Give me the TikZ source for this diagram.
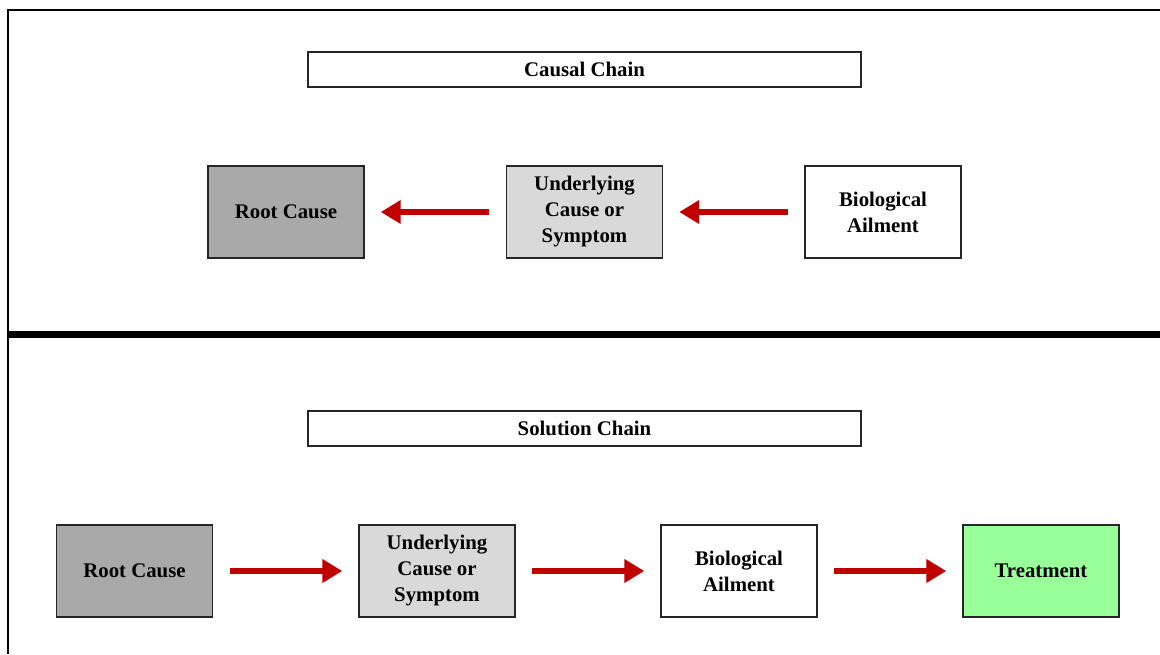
\documentclass[tikz,border=0pt]{standalone}
\usepackage{fontspec}
\setmainfont{Liberation Serif}
\usetikzlibrary{arrows.meta}
\definecolor{rootgray}{HTML}{A9A9A9}
\definecolor{midgray}{HTML}{D9D9D9}
\definecolor{treatgreen}{HTML}{99FF99}
\definecolor{arrowred}{HTML}{C00000}
\begin{document}
\begin{tikzpicture}[
            x=0.75pt, y=-0.75pt,
            box/.style={draw=black!85, line width=1.1pt, minimum width=117pt, minimum height=69pt,
                inner sep=0pt, align=center, font=\bfseries\fontsize{15.6}{19.5}\selectfont},
            title/.style={box, minimum width=414.75pt, minimum height=26.25pt},
            flow/.style={arrowred, line width=4.5pt, shorten <=12.5pt, shorten >=12pt,
                -{Triangle[length=15pt,width=17pt]}}
        ]
            \useasboundingbox (0,0) rectangle (1160,654);
            % frame and divider
            \draw[line width=2pt] (1160,10) -| (8,654);
            \draw[line width=5.2pt] (8,334.5) -- (1160,334.5);

            % causal chain
            \node[title] (causal) at (584.5,69.5) {Causal Chain};
            \node[box, fill=rootgray] (croot) at (286,212) {Root Cause};
            \node[box, fill=midgray] (cunder) at (584.5,212) {Underlying\\Cause or\\Symptom};
            \node[box, fill=white] (cbio) at (883,212) {Biological\\Ailment};
            \draw[flow] (cunder) -- (croot);
            \draw[flow] (cbio) -- (cunder);

            % solution chain
            \node[title] (solution) at (584.5,428.5) {Solution Chain};
            \node[box, fill=rootgray] (sroot) at (134.5,571) {Root Cause};
            \node[box, fill=midgray] (sunder) at (437,571) {Underlying\\Cause or\\Symptom};
            \node[box, fill=white] (sbio) at (739,571) {Biological\\Ailment};
            \node[box, fill=treatgreen] (streat) at (1041,571) {Treatment};
            \draw[flow] (sroot) -- (sunder);
            \draw[flow] (sunder) -- (sbio);
            \draw[flow] (sbio) -- (streat);
        \end{tikzpicture}
\end{document}
